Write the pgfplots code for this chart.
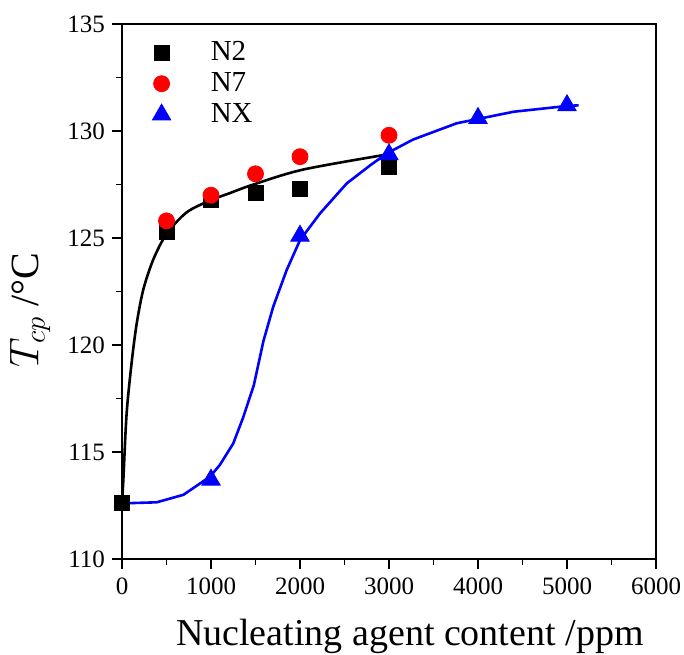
\documentclass[border=0pt]{standalone}
\usepackage{fontspec}
\setmainfont{Liberation Serif}
\usepackage{pgfplots}
\pgfplotsset{compat=1.18}
\begin{document}
\begin{tikzpicture}
\begin{axis}[
  at={(0pt,0pt)}, anchor=south west,
  scale only axis, width=267pt, height=267.5pt,
  xmin=0, xmax=6000, ymin=110, ymax=135,
  xtick={0,1000,...,6000}, ytick={110,115,...,135},
  minor x tick num=1, minor y tick num=1,
  xtick pos=left, ytick pos=left,
  tick align=outside,
  major tick length=5pt, minor tick length=3pt,
  axis line style={line width=1pt},
  every tick/.style={line width=0.9pt, black},
  /pgf/number format/assume math mode=true,
  /pgf/number format/1000 sep={},
  tick label style={font=\fontsize{12.5}{14}\selectfont},
  xticklabel style={yshift=-1pt},
  xlabel={Nucleating agent content /ppm},
  ylabel={$T_{cp}$ /°C},
  xlabel style={font=\fontsize{19}{22}\selectfont, at={(axis description cs:0.539,-0.144)}, anchor=center},
  ylabel style={font=\fontsize{20}{22}\selectfont, at={(axis description cs:-0.172,0.465)}, anchor=center, rotate=0},
  legend style={draw=none, fill=none, at={(axis description cs:0.045,0.983)}, anchor=north west,
    font=\fontsize{14.5}{16}\selectfont, row sep=0.5pt,
    /tikz/every odd column/.append style={column sep=18pt}},
  legend cell align=left,
  clip=false,
]
% fitted curves
\addplot[black, line width=1.3pt, smooth, forget plot] coordinates {
(0,112.6) (15,113.7) (52,116.8) (109,119.2) (165,121.0) (240,122.6) (352,124.0) (502,125.2) (727,126.2) (989,126.75) (1213,127.1) (1476,127.5) (2037,128.2) (2974,128.9)
};
\addplot[blue, line width=1.3pt, forget plot] coordinates {
(0,112.6) (390,112.65) (690,113.0) (990,113.85) (1100,114.4) (1250,115.4) (1360,116.6) (1480,118.1) (1590,120.2) (1700,121.8) (1850,123.5) (2000,124.9) (2225,126.15) (2525,127.55) (2790,128.4) (2975,128.95) (3270,129.6) (3760,130.36) (4400,130.9) (5000,131.17) (5130,131.2)
};
% data
\addplot[only marks, mark=square*, mark size=3.75pt, black] coordinates {
(0,112.6) (500,125.3) (1000,126.8) (1500,127.1) (2000,127.3) (3000,128.3)
};
\addlegendentry{N2}
\addplot[only marks, mark=*, mark size=4pt, red, mark options={fill=red, draw=red}] coordinates {
(500,125.8) (1000,127.0) (1500,128.0) (2000,128.8) (3000,129.8)
};
\addlegendentry{N7}
\addplot[only marks, mark=triangle*, mark size=5.3pt, blue, mark options={fill=blue, draw=blue}] coordinates {
(1000,113.7) (2000,125.1) (3000,128.9) (4000,130.6) (5000,131.2)
};
\addlegendentry{NX}
\end{axis}
\pgfresetboundingbox
\path (-61pt,-47.5pt) rectangle (281pt,279.5pt);
\end{tikzpicture}
\end{document}
